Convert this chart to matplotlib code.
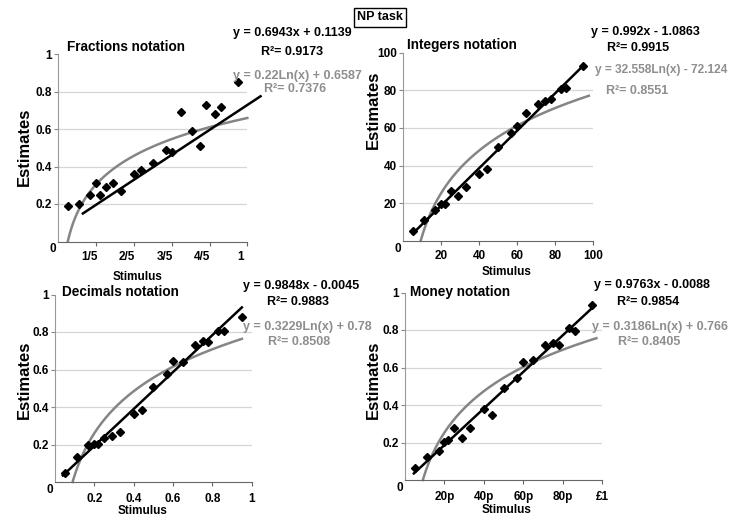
import numpy as np
import matplotlib
matplotlib.use('Agg')
import matplotlib.pyplot as plt
import matplotlib.transforms as mtrans
from matplotlib import font_manager

# stimulus magnitudes (same 20 targets in every notation, as proportions)
stimulus = [0.05, 0.11, 0.17, 0.20, 0.22, 0.25, 0.29, 0.33, 0.40, 0.44,
            0.50, 0.57, 0.60, 0.65, 0.71, 0.75, 0.78, 0.83, 0.86, 0.95]

fractions_est = [0.19, 0.20, 0.25, 0.31, 0.25, 0.29, 0.31, 0.27, 0.36, 0.38,
                 0.42, 0.49, 0.48, 0.69, 0.59, 0.51, 0.73, 0.68, 0.72, 0.85]
integers_est = [5.4, 11.1, 16.5, 19.6, 19.6, 26.6, 23.8, 28.5, 35.5, 38.1,
                49.8, 57.6, 61.2, 67.9, 72.9, 74.6, 75.4, 80.7, 81.2, 93.1]
decimals_est = [0.05, 0.135, 0.20, 0.204, 0.204, 0.236, 0.248, 0.267, 0.363, 0.386,
                0.505, 0.576, 0.643, 0.64, 0.732, 0.753, 0.746, 0.806, 0.806, 0.882]
money_est = [0.062, 0.124, 0.155, 0.204, 0.213, 0.279, 0.222, 0.276, 0.379, 0.347,
             0.492, 0.546, 0.628, 0.64, 0.72, 0.729, 0.72, 0.809, 0.795, 0.933]

# trend lines: linear (slope, intercept, x from, x to) and log (a, b, x to)
fractions_lin = (0.665, 0.063, 0.13, 1.07)
integers_lin = (0.992, -1.0863, 5, 95)
decimals_lin = (0.9848, -0.0045, 0.04, 0.95)
money_lin = (0.9763, -0.0088, 0.045, 0.95)
fractions_log = (0.22, 0.6587, 1.0)
integers_log = (32.558, -72.124, 98)
decimals_log = (0.3229, 0.78, 0.95)
money_log = (0.3186, 0.766, 0.97)

fractions_ticks = ['1/5', '2/5', '3/5', '4/5', '1']
decimals_ticks = ['0.2', '0.4', '0.6', '0.8', '1']
integers_ticks = ['20', '40', '60', '80', '100']
money_ticks = ['20p', '40p', '60p', '80p', '£1']

names = {f.name for f in font_manager.fontManager.ttflist}
fam = 'Liberation Sans Narrow' if 'Liberation Sans Narrow' in names else 'Liberation Sans'
plt.rcParams['font.family'] = [fam, 'DejaVu Sans']
plt.rcParams['font.weight'] = 'bold'

W, H = 729, 517
GREY = '#8e8e8e'
TICK_FS = 8.5
fig = plt.figure(figsize=(W / 100, H / 100), dpi=100)


def box(left, right, top, bottom):
    return [left / W, 1 - bottom / H, (right - left) / W, (bottom - top) / H]


def ftext(x, y, s, **kw):
    fig.text(x / W, 1 - y / H, s, **kw)


def panel(rect, scale, est, lin, log, ticklabels, xpad, shift=0):
    ax = fig.add_axes(rect)
    xs = np.array(stimulus) * scale
    ax.set_xlim(0, scale)
    ax.set_ylim(0, scale)
    for v in [0.2, 0.4, 0.6, 0.8]:
        ax.axhline(v * scale, color='#d6d6d6', lw=0.9, zorder=0)
    m, c, x0, x1 = lin
    lx = np.array([x0, x1])
    ax.plot(lx, m * lx + c, color='black', lw=1.8, clip_on=False, zorder=3)
    a, b, xe = log
    cx = np.linspace(np.exp(-b / a), xe, 200)
    ax.plot(cx, a * np.log(cx) + b, color='#858585', lw=1.8, clip_on=False, zorder=2)
    ax.plot(xs, est, 'D', color='black', ms=4.2, clip_on=False, zorder=4)
    ticks = [0.2 * scale, 0.4 * scale, 0.6 * scale, 0.8 * scale, scale]
    ax.set_xticks(ticks)
    ax.set_xticklabels(ticklabels)
    ax.set_yticks(ticks)
    ax.set_yticklabels(['0.2', '0.4', '0.6', '0.8', '1'] if scale == 1
                       else ['20', '40', '60', '80', '100'])
    ax.tick_params(axis='y', length=3, pad=1.5, labelsize=TICK_FS, color='#888888')
    ax.tick_params(axis='x', length=3, pad=xpad, labelsize=TICK_FS, color='#666666')
    for s in ['top', 'right']:
        ax.spines[s].set_visible(False)
    ax.spines['left'].set_color('#999999')
    ax.spines['bottom'].set_color('#666666')
    ax.patch.set_alpha(0)
    if shift:
        off = mtrans.ScaledTranslation(shift / 100, 0, fig.dpi_scale_trans)
        for lbl in ax.get_xticklabels():
            lbl.set_transform(lbl.get_transform() + off)
    zoff = mtrans.ScaledTranslation(-5 / 100, -8 / 100, fig.dpi_scale_trans)
    ax.text(0, 0, '0', fontsize=TICK_FS, ha='center', va='center',
            transform=ax.transData + zoff)
    return ax


panel(box(58.3, 247.3, 54, 241.5), 1, fractions_est, fractions_lin, fractions_log,
      fractions_ticks, 3.8, shift=-7)
panel(box(403.3, 592.7, 52.8, 240.8), 100, integers_est, integers_lin, integers_log,
      integers_ticks, 3.8)
panel(box(55, 251.7, 294.5, 482), 1, decimals_est, decimals_lin, decimals_log,
      decimals_ticks, 5.2)
panel(box(405, 602.3, 292.5, 480), 1, money_est, money_lin, money_log,
      money_ticks, 4.6)

# panel titles
TITLE_FS = 9.8
ftext(67, 47, 'Fractions notation', fontsize=TITLE_FS, va='center')
ftext(407, 45, 'Integers notation', fontsize=TITLE_FS, va='center')
ftext(62, 292, 'Decimals notation', fontsize=TITLE_FS, va='center')
ftext(410, 292, 'Money notation', fontsize=TITLE_FS, va='center')

# axis titles
for x, y in [(24, 147), (373, 110), (24, 380), (373, 380)]:
    ftext(x, y, 'Estimates', fontsize=12, rotation=90, ha='center', va='center')
for x, y in [(138, 277), (507, 272), (143, 511), (507, 510)]:
    ftext(x, y, 'Stimulus', fontsize=8.5, ha='center', va='center')

# trend line equations
eqs = [
    (292, 33, 'y = 0.6943x + 0.1139', 'black'), (292, 52, 'R²= 0.9173', 'black'),
    (297, 76, 'y = 0.22Ln(x) + 0.6587', GREY), (295, 89, 'R²= 0.7376', GREY),
    (645, 32, 'y = 0.992x - 1.0863', 'black'), (638, 48, 'R²= 0.9915', 'black'),
    (637, 91, 'R²= 0.8551', GREY),
    (301, 286, 'y = 0.9848x - 0.0045', 'black'), (298, 302, 'R²= 0.9883', 'black'),
    (307, 327, 'y = 0.3229Ln(x) + 0.78', GREY), (299, 342, 'R²= 0.8508', GREY),
    (652, 285, 'y = 0.9763x - 0.0088', 'black'), (648, 302, 'R²= 0.9854', 'black'),
    (660, 327, 'y = 0.3186Ln(x) + 0.766', GREY), (649, 342, 'R²= 0.8405', GREY),
]
for x, y, s, col in eqs:
    ftext(x, y, s, fontsize=9, color=col, ha='center', va='center')
ftext(727, 70, 'y = 32.558Ln(x) - 72.124', fontsize=8.6, color=GREY,
      ha='right', va='center')

ftext(380, 17.5, 'NP task', fontsize=9, ha='center', va='center',
      bbox=dict(boxstyle='square,pad=0.25', fc='white', ec='black', lw=1))

fig.savefig('out.png', dpi=100)
